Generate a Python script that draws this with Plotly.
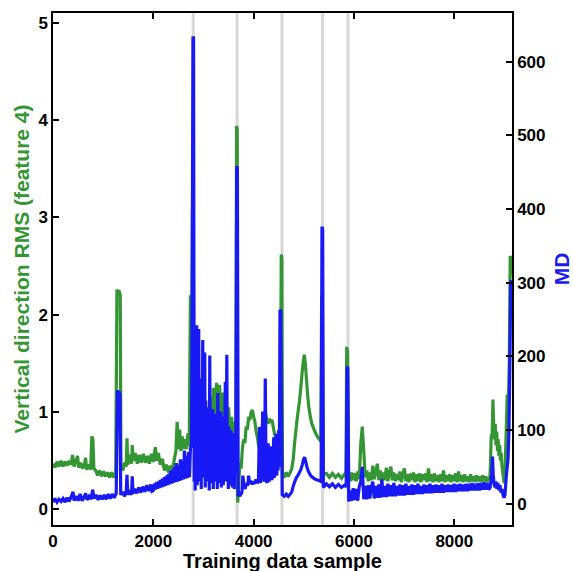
import plotly.graph_objects as go

# ---------------- RMS of vertical vibration (feature 4), left axis ----------------
rms_x_main = [
    0, 40, 80, 120, 160, 200, 240, 280, 320, 360, 390, 420, 460, 490, 510, 550, 590, 630, 650, 670,
    710, 750, 775, 795, 815, 850, 890, 930, 970, 1010, 1050, 1090, 1130, 1170, 1210, 1250,
    1275, 1295, 1315, 1340, 1355, 1390, 1430, 1460, 1475, 1490, 1530, 1565, 1580, 1600,
    1640, 1680, 1720, 1760, 1800, 1840, 1880, 1920, 1960, 2000, 2040, 2070, 2100, 2140, 2180,
    2220, 2260, 2300, 2340, 2380, 2420, 2450, 2475, 2500, 2525, 2550, 2575, 2600, 2630, 2660,
    2690, 2715, 2740, 2760, 2780, 2795,
    2810, 2840, 2870, 2900, 2930, 2960, 2990, 3020, 3050, 3080, 3110, 3140, 3170, 3200, 3230,
    3260, 3290, 3320, 3350, 3380, 3410, 3440, 3470, 3500, 3530, 3560, 3590, 3620, 3645, 3660, 3672,
    3682, 3700, 3725, 3750, 3775, 3800, 3825, 3850, 3875, 3900, 3925, 3950, 3975, 4000, 4025,
    4050, 4075, 4100, 4120, 4140, 4165, 4190, 4215, 4240, 4265, 4290, 4315, 4340, 4365, 4390,
    4415, 4440, 4465, 4490, 4515, 4535, 4550, 4562,
    4575, 4610, 4650, 4690, 4730, 4760, 4790, 4815, 4840, 4865, 4890, 4915, 4940, 4965, 4990,
    5010, 5030, 5050, 5075, 5100, 5130, 5160, 5190, 5220, 5250, 5280, 5310, 5340, 5355, 5370,
    5385, 5450, 5510, 5570, 5630, 5690, 5750, 5810, 5840, 5855, 5870,
]
rms_v_main = [
    0.47, 0.43, 0.49, 0.44, 0.50, 0.44, 0.49, 0.45, 0.50, 0.46, 0.56, 0.44, 0.50, 0.55, 0.43, 0.48, 0.42, 0.47, 0.53, 0.41,
    0.46, 0.41, 0.75, 0.72, 0.42, 0.40, 0.35, 0.40, 0.34, 0.39, 0.34, 0.38, 0.33, 0.38, 0.33, 0.37,
    2.26, 2.22, 2.25, 2.20, 0.45, 0.40, 0.48, 0.44, 0.73, 0.46, 0.56, 0.47, 0.66, 0.50,
    0.58, 0.47, 0.56, 0.48, 0.57, 0.48, 0.55, 0.47, 0.57, 0.49, 0.64, 0.50, 0.58, 0.46, 0.52,
    0.40, 0.46, 0.38, 0.45, 0.40, 0.52, 0.60, 0.90, 0.62, 0.82, 0.60, 0.75, 0.62, 0.72, 0.62,
    0.78, 0.65, 2.20, 1.00, 3.10, 3.00,
    0.70, 0.85, 0.60, 0.90, 0.65, 0.95, 0.70, 1.00, 0.75, 1.05, 0.80, 1.15, 0.85, 1.25, 0.90,
    1.30, 0.95, 1.28, 0.90, 1.20, 0.85, 1.18, 0.80, 1.05, 0.75, 0.95, 0.70, 0.90, 0.80, 3.94, 3.90,
    0.07, 0.25, 0.48, 0.42, 0.62, 0.72, 0.68, 0.85, 0.82, 0.95, 0.92, 1.00, 1.02, 0.95, 0.90,
    0.80, 0.74, 0.65, 0.61, 0.70, 0.82, 0.95, 0.90, 0.98, 0.92, 0.88, 0.93, 0.90, 0.92, 0.85,
    0.78, 0.74, 0.72, 0.76, 0.70, 0.90, 2.62, 2.58,
    0.36, 0.33, 0.38, 0.34, 0.38, 0.42, 0.52, 0.68, 0.80, 0.92, 1.02, 1.12, 1.25, 1.40, 1.52,
    1.59, 1.50, 1.36, 1.18, 1.05, 0.95, 0.88, 0.84, 0.80, 0.77, 0.74, 0.72, 0.70, 2.20, 2.10,
    0.36, 0.37, 0.33, 0.37, 0.33, 0.36, 0.32, 0.36, 0.34, 1.67, 1.62,
]
# steady-running stretch, one reading every 30 samples from 5895 to 8685
rms_v_steady = [
    0.34, 0.29, 0.38, 0.30, 0.37, 0.29, 0.39, 0.31, 0.67, 0.85, 0.60, 0.33, 0.40, 0.29, 0.38,
    0.30, 0.45, 0.31, 0.39, 0.47, 0.30, 0.40, 0.29, 0.38, 0.30, 0.43, 0.29, 0.37, 0.44, 0.30,
    0.38, 0.29, 0.36, 0.30, 0.39, 0.28, 0.37, 0.42, 0.29, 0.36, 0.28, 0.37, 0.30, 0.38, 0.28,
    0.36, 0.29, 0.37, 0.28, 0.36, 0.30, 0.37, 0.28, 0.42, 0.29, 0.36, 0.28, 0.37, 0.29, 0.35,
    0.28, 0.36, 0.29, 0.40, 0.28, 0.35, 0.29, 0.36, 0.28, 0.35, 0.29, 0.37, 0.28, 0.39, 0.29,
    0.35, 0.28, 0.36, 0.29, 0.34, 0.28, 0.36, 0.29, 0.34, 0.28, 0.35, 0.29, 0.34, 0.28, 0.35,
    0.29, 0.34, 0.28, 0.33,
]
rms_x_tail = [
    8705, 8720, 8735, 8755, 8770, 8785, 8800, 8815, 8830, 8845, 8860, 8875, 8890, 8905, 8920,
    8935, 8950, 8975, 8995, 9015, 9040, 9055, 9075, 9095, 9115, 9135, 9150,
]
rms_v_tail = [
    0.30, 0.45, 0.75, 0.78, 1.13, 0.85, 0.72, 0.88, 0.66, 0.80, 0.60, 0.72, 0.55, 0.66, 0.50,
    0.58, 0.45, 0.34, 0.27, 0.45, 0.90, 1.18, 1.00, 1.50, 2.60, 2.58, 2.40,
]

# ---------------- Mahalanobis distance (MD), right axis ----------------
md_x_start = [
    0, 40, 80, 120, 160, 200, 240, 280, 320, 360, 400, 420, 460, 500, 540, 580, 620, 650, 680, 720,
    760, 790, 820, 860, 900, 940, 980, 1020, 1060, 1100, 1140, 1180, 1220, 1260,
    1285, 1300, 1320, 1335, 1350, 1390, 1430, 1460, 1475, 1490, 1530, 1565, 1580, 1595,
    1630, 1670, 1710, 1750, 1790, 1830, 1870, 1910, 1950, 1975,
]
md_v_start = [
    2, 7, 2, 6, 3, 7, 2, 8, 3, 9, 16, 4, 10, 4, 13, 4, 9, 14, 5, 10,
    6, 19, 7, 12, 5, 11, 6, 12, 6, 13, 7, 13, 8, 14,
    154, 150, 152, 148, 12, 16, 10, 17, 39, 12, 18, 12, 37, 14,
    20, 14, 22, 15, 23, 16, 25, 17, 26, 17,
]
# ramp before the first fault, one reading every 20 samples from 2000 to 2760
md_v_ramp = [
    18, 27, 19, 29, 20, 30, 21, 32, 22, 34, 23, 36, 24, 38, 25, 40, 26, 44, 27, 46,
    28, 50, 29, 55, 30, 52, 31, 60, 32, 58, 33, 72, 34, 65, 35, 70, 36, 75, 80,
]
md_x_peak = [2775, 2790, 2802]
md_v_peak = [300, 634, 632]
# unsettled stretch, one reading every 10 samples from 2815 to 3645
md_v_burst = [
    30, 110, 18, 95, 40, 242, 25, 180, 50, 237, 30, 170, 45, 150, 20, 135, 55, 222, 35, 160,
    48, 205, 22, 140, 50, 120, 30, 130, 45, 110, 18, 201, 52, 125, 28, 115, 48, 128, 20, 118,
    55, 105, 30, 122, 45, 112, 20, 150, 50, 115, 28, 108, 46, 125, 22, 110, 52, 100, 25, 118,
    48, 105, 165, 30, 110, 202, 40, 98, 20, 105, 48, 92, 25, 100, 50, 88, 22, 96, 45, 85,
    20, 90, 40, 80,
]
md_x_mid = [
    3662, 3676,
    3690, 3715, 3740, 3765, 3785, 3805, 3830, 3855, 3880, 3900, 3920, 3945, 3970, 3995, 4020,
    4045, 4070, 4095, 4115, 4130, 4155, 4180, 4195, 4215, 4232, 4248, 4270, 4290, 4305, 4330,
    4350, 4365, 4385, 4400, 4412, 4425, 4437, 4450, 4462, 4475, 4487, 4500, 4512, 4525, 4540, 4555,
    4570, 4610, 4650, 4690, 4730, 4760, 4790, 4820, 4850, 4880, 4910, 4940, 4970, 4995, 5015,
    5035, 5060, 5090, 5120, 5150, 5190, 5230, 5270, 5310, 5345, 5362, 5376,
    5390, 5450, 5510, 5570, 5630, 5690, 5750, 5810, 5845, 5862, 5876,
]
md_v_mid = [
    458, 455,
    10, 14, 12, 15, 38, 24, 20, 28, 24, 38, 27, 31, 26, 30, 27,
    33, 28, 30, 104, 28, 36, 125, 34, 30, 170, 32, 28, 82, 30, 36,
    78, 32, 45, 90, 35, 80, 40, 95, 38, 85, 45, 100, 50, 263, 262, 120,
    12, 10, 13, 10, 13, 16, 24, 30, 35, 38, 42, 46, 53, 60, 63,
    58, 50, 44, 40, 37, 35, 33, 32, 31, 30, 376, 372,
    22, 27, 23, 27, 22, 26, 22, 25, 23, 186, 184,
]
# steady-running stretch, one reading every 30 samples from 5895 to 8685
md_v_steady = [
    3, 18, 4, 21, 5, 20, 4, 23, 30, 50, 6, 24, 6, 25, 7,
    22, 30, 7, 24, 8, 26, 8, 33, 9, 24, 9, 27, 10, 25, 10,
    28, 10, 24, 11, 26, 11, 25, 11, 27, 12, 24, 12, 26, 12, 25,
    13, 27, 13, 24, 13, 26, 14, 25, 14, 27, 14, 25, 15, 26, 15,
    25, 15, 27, 15, 25, 16, 26, 16, 25, 16, 27, 16, 26, 17, 27,
    17, 26, 17, 27, 17, 27, 18, 28, 18, 27, 18, 28, 18, 28, 19,
    29, 19, 28, 19,
]
md_x_tail = [
    8715, 8745, 8762, 8775, 8790, 8810, 8830, 8850, 8870, 8890, 8910, 8930, 8950, 8970, 8990,
    9010, 9040, 9070, 9090, 9110, 9125, 9150,
]
md_v_tail = [
    22, 40, 64, 40, 28, 22, 30, 20, 28, 18, 25, 15, 20, 12, 8,
    12, 40, 60, 100, 200, 303, 300,
]

# Samples where the operating condition changes
change_points = [2795, 3670, 4565, 5372, 5882]

x_ticks = [0, 2000, 4000, 6000, 8000]
rms_ticks = [0, 1, 2, 3, 4, 5]
md_ticks = [0, 100, 200, 300, 400, 500, 600]

# regular sample indices of the evenly logged stretches
steady_x = list(range(5895, 8686, 30))
ramp_x = list(range(2000, 2761, 20))
burst_x = list(range(2815, 3646, 10))

rms_sample = rms_x_main + steady_x + rms_x_tail
rms_value = rms_v_main + rms_v_steady + rms_v_tail
md_sample = md_x_start + ramp_x + md_x_peak + burst_x + md_x_mid + steady_x + md_x_tail
md_value = md_v_start + md_v_ramp + md_v_peak + md_v_burst + md_v_mid + md_v_steady + md_v_tail

assert len(rms_x_main) == len(rms_v_main)
assert len(steady_x) == len(rms_v_steady) == len(md_v_steady)
assert len(rms_x_tail) == len(rms_v_tail)
assert len(md_x_start) == len(md_v_start)
assert len(ramp_x) == len(md_v_ramp)
assert len(burst_x) == len(md_v_burst)
assert len(md_x_mid) == len(md_v_mid)
assert len(md_x_tail) == len(md_v_tail)

GREEN = "rgb(51,150,51)"
BLUE = "rgb(25,25,245)"
FONT = "Liberation Sans, Arial, sans-serif"

fig = go.Figure()
fig.add_trace(go.Scatter(
    x=rms_sample, y=rms_value, mode="lines", yaxis="y",
    line=dict(color=GREEN, width=3.2, simplify=False), showlegend=False,
))
fig.add_trace(go.Scatter(
    x=md_sample, y=md_value, mode="lines", yaxis="y2",
    line=dict(color=BLUE, width=3.2, simplify=False), showlegend=False,
))

for cp in change_points:
    fig.add_shape(type="line", xref="x", yref="paper", x0=cp, x1=cp, y0=0, y1=1,
                  line=dict(color="rgb(215,215,215)", width=3), layer="below")

tick_font = dict(family=FONT, size=17, color="black", weight="bold")
axis_common = dict(showline=True, linecolor="black", linewidth=1.5, ticks="inside",
                   ticklen=6, tickwidth=1.5, tickcolor="black", showgrid=False,
                   zeroline=False, tickfont=tick_font, automargin=False)

# x-axis title sits low, just under the tick labels
fig.add_annotation(
    text="Training data sample", xref="paper", yref="paper", x=0.5, y=0,
    xanchor="center", yanchor="top", yshift=-23, showarrow=False,
    font=dict(family=FONT, size=20, color="black", weight="bold"),
)

fig.update_layout(
    width=573, height=571,
    margin=dict(l=53, r=61, t=13, b=46),
    paper_bgcolor="white", plot_bgcolor="white",
    xaxis=dict(range=[0, 9150], tickvals=x_ticks, mirror="ticks", **axis_common),
    yaxis=dict(range=[-0.16, 5.10], tickvals=rms_ticks,
               title=dict(text="Vertical direction RMS (feature 4)", standoff=3,
                          font=dict(family=FONT, size=21, color=GREEN, weight="bold")),
               **axis_common),
    yaxis2=dict(range=[-29, 666], tickvals=md_ticks, overlaying="y", side="right",
                title=dict(text="MD", standoff=14,
                           font=dict(family=FONT, size=21, color=BLUE, weight="bold")),
                **axis_common),
)

fig.write_html("out.html")
